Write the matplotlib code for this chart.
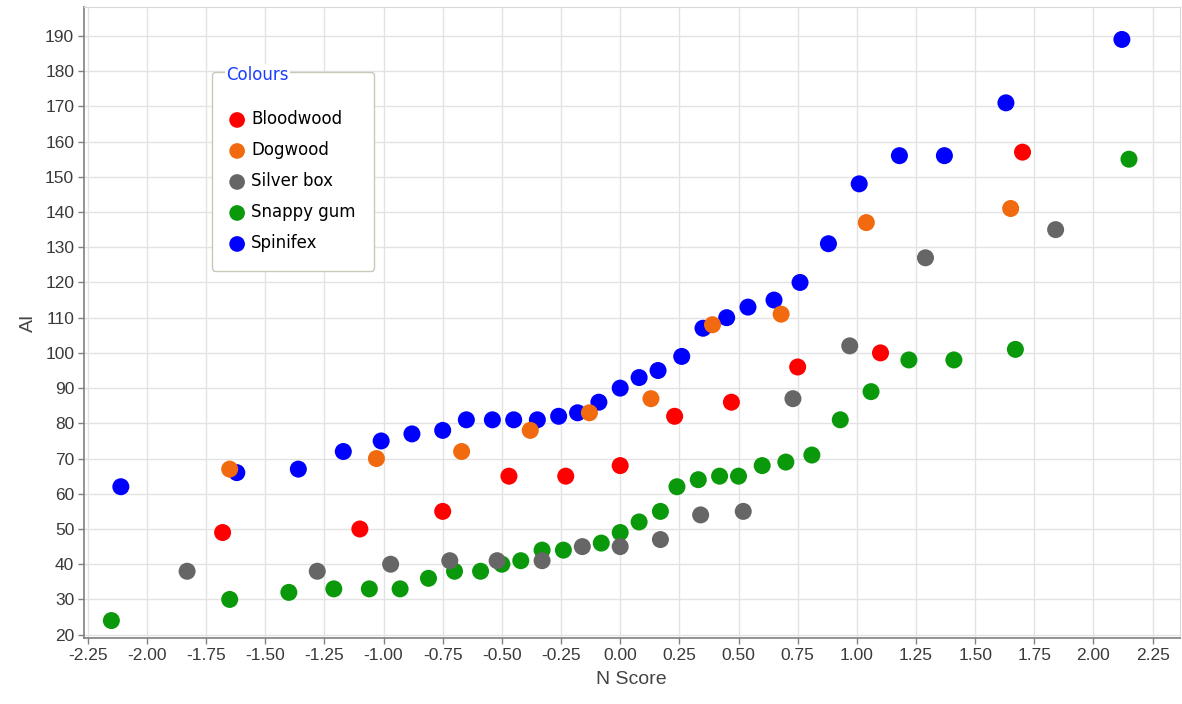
import numpy as np
import matplotlib
matplotlib.use('Agg')
import matplotlib.pyplot as plt

# normal scores vs AI for each vegetation type
bloodwood_n = [-1.68, -1.10, -0.75, -0.47, -0.23, 0.00, 0.23, 0.47, 0.75, 1.10, 1.70]
bloodwood_ai = [49, 50, 55, 65, 65, 68, 82, 86, 96, 100, 157]

dogwood_n = [-1.65, -1.03, -0.67, -0.38, -0.13, 0.13, 0.39, 0.68, 1.04, 1.65]
dogwood_ai = [67, 70, 72, 78, 83, 87, 108, 111, 137, 141]

silverbox_n = [-1.83, -1.28, -0.97, -0.72, -0.52, -0.33, -0.16, 0.00, 0.17, 0.34,
               0.52, 0.73, 0.97, 1.29, 1.84]
silverbox_ai = [38, 38, 40, 41, 41, 41, 45, 45, 47, 54, 55, 87, 102, 127, 135]

snappy_n = [-2.15, -1.65, -1.40, -1.21, -1.06, -0.93, -0.81, -0.70, -0.59, -0.50,
            -0.42, -0.33, -0.24, -0.08, 0.00, 0.08, 0.17, 0.24, 0.33, 0.42,
            0.50, 0.60, 0.70, 0.81, 0.93, 1.06, 1.22, 1.41, 1.67, 2.15]
snappy_ai = [24, 30, 32, 33, 33, 33, 36, 38, 38, 40,
             41, 44, 44, 46, 49, 52, 55, 62, 64, 65,
             65, 68, 69, 71, 81, 89, 98, 98, 101, 155]

spinifex_n = [-2.11, -1.62, -1.36, -1.17, -1.01, -0.88, -0.75, -0.65, -0.54, -0.45,
              -0.35, -0.26, -0.18, -0.09, 0.00, 0.08, 0.16, 0.26, 0.35, 0.45,
              0.54, 0.65, 0.76, 0.88, 1.01, 1.18, 1.37, 1.63, 2.12]
spinifex_ai = [62, 66, 67, 72, 75, 77, 78, 81, 81, 81,
               81, 82, 83, 86, 90, 93, 95, 99, 107, 110,
               113, 115, 120, 131, 148, 156, 156, 171, 189]

series = [
    ('Bloodwood', bloodwood_n, bloodwood_ai, '#ff0000'),
    ('Dogwood', dogwood_n, dogwood_ai, '#f26a10'),
    ('Silver box', silverbox_n, silverbox_ai, '#666666'),
    ('Snappy gum', snappy_n, snappy_ai, '#0a990a'),
    ('Spinifex', spinifex_n, spinifex_ai, '#0000ff'),
]
draw_order = [4, 3, 2, 1, 0]

plt.rcParams['font.family'] = ['Liberation Sans', 'DejaVu Sans']

fig = plt.figure(figsize=(11.82, 7.04), dpi=100)
ax = fig.add_axes([0.071, 0.094, 0.927, 0.896])

handles = {}
for i in draw_order:
    name, xs, ys, col = series[i]
    handles[name] = ax.scatter(xs, ys, s=150, color=col, edgecolors='none',
                               label=name, zorder=3)

ax.set_xlim(-2.266, 2.364)
ax.set_ylim(19.1, 198.2)
ax.set_xticks(np.arange(-2.25, 2.26, 0.25))
ax.set_yticks(np.arange(20, 191, 10))
ax.xaxis.set_major_formatter(matplotlib.ticker.FormatStrFormatter('%.2f'))
ax.grid(True, color='#e3e3e3', linewidth=1.0, zorder=0)
ax.set_axisbelow(True)

for side in ['left', 'bottom']:
    ax.spines[side].set_color('#808080')
    ax.spines[side].set_linewidth(1.2)
for side in ['top', 'right']:
    ax.spines[side].set_color('#d8d8d8')

ax.tick_params(axis='both', direction='out', length=4, width=1, color='#808080',
               labelsize=12.5, labelcolor='#3a3a3a', pad=3)

ax.set_xlabel('N Score', fontsize=14, color='#444444', labelpad=6)
ax.set_ylabel('AI', fontsize=14, color='#444444', labelpad=6)

# blank title only reserves room under the caption drawn below
leg = ax.legend([handles[s[0]] for s in series], [s[0] for s in series],
                loc='upper left', bbox_to_anchor=(0.117, 0.897),
                frameon=True, fancybox=True, edgecolor='#c8c8b8',
                framealpha=1.0, borderpad=1.1, labelspacing=0.78,
                handletextpad=0.45, handlelength=0.8, borderaxespad=0,
                prop={'family': ['DejaVu Sans'], 'size': 12},
                title=' ', title_fontsize=6, markerscale=0.92)
leg.get_frame().set_linewidth(1.0)
leg.set_zorder(5)

# group box caption sitting on the legend's top edge
fig.canvas.draw()
bb = leg.get_window_extent().transformed(fig.transFigure.inverted())
fig.text(bb.x0 + 0.012, bb.y1 - 0.004, 'Colours', color='#1a3cff', fontsize=12,
         family=['DejaVu Sans'], va='center', ha='left', zorder=10,
         bbox=dict(facecolor='white', edgecolor='none', pad=1))

fig.savefig('out.png', dpi=100)
